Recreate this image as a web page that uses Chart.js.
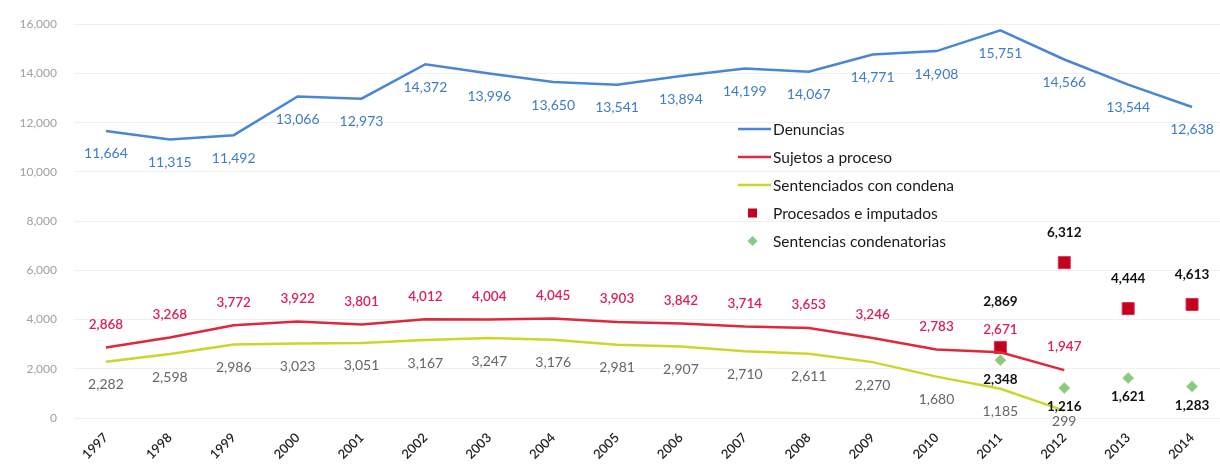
<!DOCTYPE html>
<html>
<head>
<meta charset="utf-8">
<script src="https://cdn.jsdelivr.net/npm/chart.js@4/dist/chart.umd.min.js"></script>
<style>
    html, body { margin: 0; padding: 0; background: #fff; overflow: hidden; }
    #wrap { width: 1250px; height: 465px; position: relative; }
</style>
</head>
<body>
<div id="wrap"><canvas id="chart"></canvas></div>
<script>
const years = ['1997', '1998', '1999', '2000', '2001', '2002', '2003', '2004', '2005',
    '2006', '2007', '2008', '2009', '2010', '2011', '2012', '2013', '2014'];

const denuncias = [11664, 11315, 11492, 13066, 12973, 14372, 13996, 13650, 13541,
    13894, 14199, 14067, 14771, 14908, 15751, 14566, 13544, 12638];
const sujetosProceso = [2868, 3268, 3772, 3922, 3801, 4012, 4004, 4045, 3903,
    3842, 3714, 3653, 3246, 2783, 2671, 1947, null, null];
const sentenciadosCondena = [2282, 2598, 2986, 3023, 3051, 3167, 3247, 3176, 2981,
    2907, 2710, 2611, 2270, 1680, 1185, 299, null, null];
const procesadosImputados = [null, null, null, null, null, null, null, null, null,
    null, null, null, null, null, 2869, 6312, 4444, 4613];
const sentenciasCondenatorias = [null, null, null, null, null, null, null, null, null,
    null, null, null, null, null, 2348, 1216, 1621, 1283];

const yTicks = [0, 2000, 4000, 6000, 8000, 10000, 12000, 14000, 16000];

const FONT = 'Lato, "Open Sans", sans-serif';

// value labels + legend drawn on the canvas
const labelsPlugin = {
    id: 'valueLabels',
    afterDatasetsDraw(chart) {
        const ctx = chart.ctx;
        ctx.save();
        ctx.textAlign = 'center';
        ctx.textBaseline = 'middle';
        chart.data.datasets.forEach((ds, di) => {
            const meta = chart.getDatasetMeta(di);
            const lc = ds.valueLabel;
            meta.data.forEach((pt, i) => {
                const v = ds.data[i];
                if (v == null) return;
                let dy = lc.dy;
                if (lc.nudge && lc.nudge[i] != null) dy = lc.nudge[i];
                let y = pt.y + dy;
                if (lc.maxY) y = Math.min(y, lc.maxY);
                ctx.font = lc.font;
                ctx.fillStyle = lc.color;
                ctx.fillText(v.toLocaleString('en-US'), pt.x, y);
            });
        });

        // legend
        const lx = 738, ly = 129, step = 28;
        ctx.textAlign = 'left';
        ctx.font = '15.5px ' + FONT;
        chart.data.datasets.forEach((ds, di) => {
            const y = ly + di * step;
            if (ds.showLine === false) {
                ctx.fillStyle = ds.backgroundColor;
                if (ds.pointStyle === 'rect') {
                    ctx.fillRect(lx + 10, y - 4.5, 9, 9);
                } else {
                    ctx.beginPath();
                    ctx.moveTo(lx + 14.5, y - 5);
                    ctx.lineTo(lx + 19.5, y);
                    ctx.lineTo(lx + 14.5, y + 5);
                    ctx.lineTo(lx + 9.5, y);
                    ctx.closePath();
                    ctx.fill();
                }
            } else {
                ctx.strokeStyle = ds.borderColor;
                ctx.lineWidth = 2.5;
                ctx.beginPath();
                ctx.moveTo(lx, y);
                ctx.lineTo(lx + 33, y);
                ctx.stroke();
            }
            ctx.fillStyle = '#1a1a1a';
            ctx.fillText(ds.label, lx + 35, y + 1);
        });
        ctx.restore();
    }
};

new Chart(document.getElementById('chart'), {
    type: 'line',
    data: {
        labels: years,
        datasets: [
            {
                label: 'Denuncias',
                data: denuncias,
                borderColor: '#4a86d6',
                borderWidth: 2.5,
                pointRadius: 0,
                valueLabel: { dy: 23, color: '#3b7ccc', font: '14px ' + FONT }
            },
            {
                label: 'Sujetos a proceso',
                data: sujetosProceso,
                borderColor: '#e0283c',
                borderWidth: 2.5,
                pointRadius: 0,
                valueLabel: { dy: -23, color: '#dc1f55', font: '600 13.5px ' + FONT }
            },
            {
                label: 'Sentenciados con condena',
                data: sentenciadosCondena,
                borderColor: '#cbd52a',
                borderWidth: 2.5,
                pointRadius: 0,
                valueLabel: { dy: 23, color: '#666', font: '14px ' + FONT, maxY: 421 }
            },
            {
                label: 'Procesados e imputados',
                data: procesadosImputados,
                showLine: false,
                pointStyle: 'rect',
                pointRadius: 8.5,
                backgroundColor: '#c4001c',
                borderColor: '#d8305a',
                borderWidth: 1,
                valueLabel: { dy: -30, nudge: { 14: -46 }, color: '#111', font: 'bold 13.5px ' + FONT }
            },
            {
                label: 'Sentencias condenatorias',
                data: sentenciasCondenatorias,
                showLine: false,
                pointStyle: 'rectRot',
                pointRadius: 5.5,
                backgroundColor: '#86c98a',
                borderColor: '#b6d86a',
                borderWidth: 1,
                valueLabel: { dy: 19, color: '#111', font: 'bold 13.5px ' + FONT }
            }
        ]
    },
    options: {
        responsive: true,
        maintainAspectRatio: false,
        animation: false,
        layout: { padding: { top: 18, right: 26, left: 0, bottom: 0 } },
        plugins: {
            legend: { display: false },
            tooltip: { enabled: false }
        },
        scales: {
            x: {
                offset: true,
                grid: { display: false },
                border: { display: false },
                afterFit: (axis) => { axis.height = 47; },
                ticks: {
                    minRotation: 45,
                    maxRotation: 45,
                    padding: 4,
                    color: '#222',
                    font: { family: FONT, size: 13, weight: '600' }
                }
            },
            y: {
                min: 0,
                max: 16000,
                afterFit: (axis) => { axis.width = 74; },
                afterBuildTicks: (axis) => { axis.ticks = yTicks.map(v => ({ value: v })); },
                grid: { color: '#f0f0f0', drawTicks: false },
                border: { display: false },
                ticks: {
                    padding: 17,
                    color: '#a0a0a0',
                    font: { family: FONT, size: 12 },
                    callback: (v) => v.toLocaleString('en-US')
                }
            }
        }
    },
    plugins: [labelsPlugin]
});
</script>
</body>
</html>
